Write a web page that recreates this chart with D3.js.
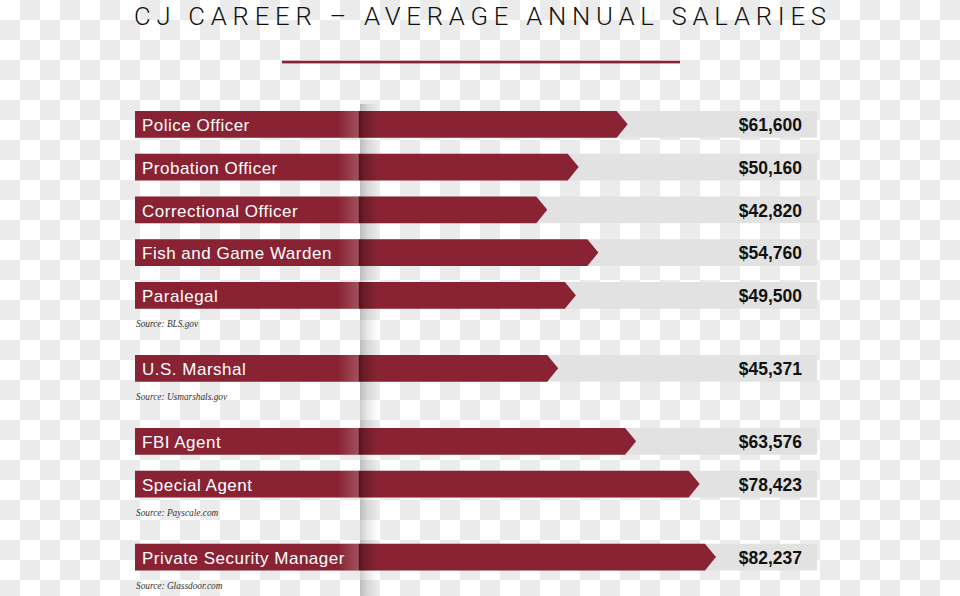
<!DOCTYPE html>
<html>
<head>
<meta charset="utf-8">
<script src="https://cdn.jsdelivr.net/npm/d3@7"></script>
<style>
  html, body { margin: 0; padding: 0; background: #fff; }
  svg { display: block; }
</style>
</head>
<body>
<div id="chart"></div>
<script>
// ---- data ----
const titleText = "CJ CAREER \u2013 AVERAGE ANNUAL SALARIES";
const categories = ["Police Officer", "Probation Officer", "Correctional Officer", "Fish and Game Warden", "Paralegal", "U.S. Marshal", "FBI Agent", "Special Agent", "Private Security Manager"];
const salaries = [61600, 50160, 42820, 54760, 49500, 45371, 63576, 78423, 82237];
const groupOf = [0, 0, 0, 0, 0, 1, 2, 2, 3];
const sources = ["Source: BLS.gov", "Source: Usmarshals.gov", "Source: Payscale.com", "Source: Glassdoor.com"];

// ---- layout ----
const W = 960, H = 596;
const RED = "#892333", GREY = "#e2e2e2", CHECK = "#ebebeb";
const barLeft = 135, bgRight = 817, barH = 26.7, tip = 11;
const gapFrac = 30.25 / 42.75;
const foldX = 360;

const svg = d3.select("#chart").append("svg").attr("width", W).attr("height", H);
const defs = svg.append("defs");

// checkerboard background (transparency pattern of the source picture)
const pat = defs.append("pattern").attr("id", "checker").attr("patternUnits", "userSpaceOnUse")
  .attr("width", 40).attr("height", 40);
pat.append("rect").attr("width", 40).attr("height", 40).attr("fill", "#fff");
pat.append("rect").attr("x", 20).attr("y", 0).attr("width", 20).attr("height", 20).attr("fill", CHECK);
pat.append("rect").attr("x", 0).attr("y", 20).attr("width", 20).attr("height", 20).attr("fill", CHECK);
svg.append("rect").attr("width", W).attr("height", H).attr("fill", "url(#checker)");

// fold gradients
const gBar = defs.append("linearGradient").attr("id", "foldBar").attr("gradientUnits", "userSpaceOnUse")
  .attr("x1", foldX - 22).attr("x2", foldX + 18).attr("y1", 0).attr("y2", 0);
[[0, "#fff", 0], [0.5, "#fff", 0.2], [0.53, "#000", 0.42], [0.65, "#000", 0.22], [1, "#000", 0]]
  .forEach(([o, c, a]) => gBar.append("stop").attr("offset", o).attr("stop-color", c).attr("stop-opacity", a));
const gBg = defs.append("linearGradient").attr("id", "foldBg").attr("gradientUnits", "userSpaceOnUse")
  .attr("x1", foldX).attr("x2", foldX + 18).attr("y1", 0).attr("y2", 0);
[[0, "#000", 0.2], [0.4, "#000", 0.09], [1, "#000", 0]]
  .forEach(([o, c, a]) => gBg.append("stop").attr("offset", o).attr("stop-color", c).attr("stop-opacity", a));

// scales
const x = d3.scaleLinear().domain([0, 100000]).range([364, 792]);
const y = d3.scaleLinear().domain([0, 1]).range([111, 153.75]);
const slot = i => i + groupOf[i] * gapFrac;
const fmt = d3.format("$,");

// title
const tScale = 0.97;
svg.append("text")
  .attr("transform", `translate(134,24.8) scale(${tScale},1)`)
  .attr("x", 0).attr("y", 0)
  .attr("textLength", 692 / tScale).attr("lengthAdjust", "spacing")
  .attr("font-family", "Roboto, 'Liberation Sans', sans-serif")
  .attr("font-weight", 300).attr("font-size", 26.5).attr("fill", "#111")
  .text(titleText);
svg.append("rect").attr("x", 282).attr("y", 60.7).attr("width", 398).attr("height", 2.7).attr("fill", RED);

// fold shadow on background
svg.append("rect").attr("x", foldX).attr("y", 104).attr("width", 18).attr("height", H - 104).attr("fill", "url(#foldBg)");

const data = categories.map((c, i) => ({ c, v: salaries[i], i }));
const rows = svg.append("g").selectAll("g").data(data).join("g");

rows.append("rect")
  .attr("x", barLeft).attr("y", d => y(slot(d.i)))
  .attr("width", bgRight - barLeft).attr("height", barH).attr("fill", GREY);

rows.append("path")
  .attr("d", d => {
    const y0 = y(slot(d.i)), xe = x(d.v);
    return `M${barLeft},${y0}H${xe - tip}L${xe},${y0 + barH / 2}L${xe - tip},${y0 + barH}H${barLeft}Z`;
  })
  .attr("fill", RED);

rows.append("rect")
  .attr("x", foldX - 22).attr("y", d => y(slot(d.i)))
  .attr("width", 40).attr("height", barH).attr("fill", "url(#foldBar)");

rows.append("text")
  .attr("x", 142).attr("y", d => y(slot(d.i)) + 20)
  .attr("font-family", "'Liberation Sans', Arial, sans-serif")
  .attr("font-size", 17).attr("letter-spacing", 0.5).attr("fill", "#fff")
  .text(d => d.c);

rows.append("text")
  .attr("x", 802).attr("y", d => y(slot(d.i)) + 20)
  .attr("text-anchor", "end")
  .attr("font-family", "'Liberation Sans', Arial, sans-serif")
  .attr("font-weight", "bold").attr("font-size", 17.5).attr("fill", "#111")
  .text(d => fmt(d.v));

// source notes under last row of each group
const lastOfGroup = sources.map((s, g) => d3.max(data.filter(d => groupOf[d.i] === g), d => d.i));
svg.append("g").selectAll("text").data(sources).join("text")
  .attr("x", 136).attr("y", (s, g) => y(slot(lastOfGroup[g])) + barH + 18.7)
  .attr("font-family", "'Liberation Serif', 'Times New Roman', serif")
  .attr("font-style", "italic").attr("font-size", 9.3).attr("fill", "#333")
  .text(s => s);
</script>
</body>
</html>
